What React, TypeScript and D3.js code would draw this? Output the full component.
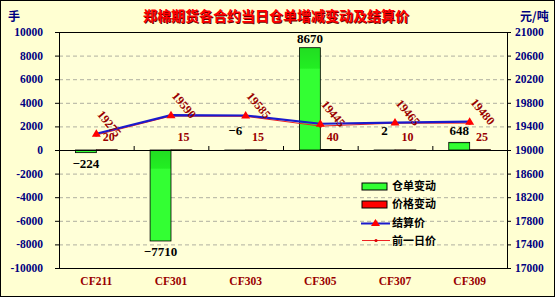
import React from "react";
import * as d3 from "d3";

// Contracts and daily figures
const contracts = ["CF211", "CF301", "CF303", "CF305", "CF307", "CF309"];
const receiptChange = [-224, -7710, -6, 8670, 2, 648];
const priceChange = [20, 15, 15, 40, 10, 25];
const settlePrice = [19275, 19590, 19585, 19445, 19465, 19480];
const prevPrice = [19255, 19575, 19570, 19405, 19455, 19455];

const leftTicks = [-10000, -8000, -6000, -4000, -2000, 0, 2000, 4000, 6000, 8000, 10000];
const rightTicks = [17000, 17400, 17800, 18200, 18600, 19000, 19400, 19800, 20200, 20600, 21000];

const W = 555;
const H = 297;
const plot = { left: 59, right: 507, top: 32, bottom: 268 };

const numFont = "'Liberation Serif', 'Times New Roman', serif";
const cjkFont = "'Noto Sans CJK SC', sans-serif";

export default function App() {
  const x = d3.scaleBand<string>().domain(contracts).range([plot.left, plot.right]).padding(0);
  const yL = d3.scaleLinear().domain([-10000, 10000]).range([plot.bottom, plot.top]);
  const yR = d3.scaleLinear().domain([17000, 21000]).range([plot.bottom, plot.top]);
  const bw = x.bandwidth() * 0.28;
  const cx = (c: string) => (x(c) as number) + x.bandwidth() / 2;

  const settleLine = d3
    .line<number>()
    .x((_, i) => cx(contracts[i]))
    .y((d) => yR(d));

  const zeroY = yL(0);

  return (
    <svg
      width={W}
      height={H}
      style={{ position: "absolute", left: 0, top: 0, display: "block" }}
    >
      <defs>
        <linearGradient id="greenFill" x1="0" y1="0" x2="0" y2="1">
          <stop offset="0" stopColor="#22dd22" />
          <stop offset="0.2" stopColor="#22ee22" />
          <stop offset="0.21" stopColor="#33ff33" />
          <stop offset="1" stopColor="#33ff33" />
        </linearGradient>
      </defs>
      <rect x={0.5} y={0.5} width={W - 1} height={H - 1} fill="#ffffd2" stroke="#000" />
      <rect
        x={plot.left}
        y={plot.top}
        width={plot.right - plot.left}
        height={plot.bottom - plot.top}
        fill="#ffffd8"
      />

      {/* grid */}
      {leftTicks
        .filter((t) => t !== 10000 && t !== -10000 && t !== 0)
        .map((t) => (
          <line
            key={"g" + t}
            x1={plot.left}
            x2={plot.right}
            y1={yL(t) + 0.5}
            y2={yL(t) + 0.5}
            stroke="#b0b0a0"
            strokeDasharray="4,3"
          />
        ))}

      {/* frame */}
      <rect
        x={plot.left + 0.5}
        y={plot.top + 0.5}
        width={plot.right - plot.left}
        height={plot.bottom - plot.top}
        fill="none"
        stroke="#000"
      />

      {/* left axis */}
      {leftTicks.map((t) => (
        <g key={"l" + t}>
          <line x1={plot.left - 4} x2={plot.left} y1={yL(t) + 0.5} y2={yL(t) + 0.5} stroke="#000" />
          <text
            x={43}
            y={yL(t) + 4}
            textAnchor="end"
            fontFamily={numFont}
            fontWeight="bold"
            fontSize={11.5}
            fill="#000080"
          >
            {t}
          </text>
        </g>
      ))}
      {/* right axis */}
      {rightTicks.map((t) => (
        <g key={"r" + t}>
          <line x1={plot.right} x2={plot.right + 4} y1={yR(t) + 0.5} y2={yR(t) + 0.5} stroke="#000" />
          <text
            x={515}
            y={yR(t) + 4}
            textAnchor="start"
            fontFamily={numFont}
            fontWeight="bold"
            fontSize={11.5}
            fill="#000080"
          >
            {t}
          </text>
        </g>
      ))}

      {/* bars: warehouse receipt change */}
      {contracts.map((c, i) => {
        const v = receiptChange[i];
        const y0 = Math.min(yL(v), zeroY);
        const h = Math.max(Math.abs(yL(v) - zeroY), 0.5);
        return (
          <rect
            key={"gb" + c}
            x={cx(c) - bw}
            y={y0}
            width={bw}
            height={h}
            fill="url(#greenFill)"
            stroke="#000"
            strokeWidth={0.8}
          />
        );
      })}
      {/* bars: price change */}
      {contracts.map((c, i) => {
        const v = priceChange[i];
        const y0 = Math.min(yL(v), zeroY);
        const h = Math.max(Math.abs(yL(v) - zeroY), 0.5);
        return (
          <rect
            key={"rb" + c}
            x={cx(c)}
            y={y0}
            width={bw}
            height={h}
            fill="#ff0000"
            stroke="#000"
            strokeWidth={0.8}
          />
        );
      })}

      {/* category axis at zero */}
      <line x1={plot.left} x2={plot.right} y1={zeroY + 0.5} y2={zeroY + 0.5} stroke="#000" strokeWidth={1.2} />
      {contracts.slice(1).map((c) => (
        <line
          key={"xt" + c}
          x1={(x(c) as number) + 0.5}
          x2={(x(c) as number) + 0.5}
          y1={zeroY - 4}
          y2={zeroY}
          stroke="#000"
        />
      ))}

      {/* previous-day price */}
      <path d={settleLine(prevPrice) || ""} fill="none" stroke="#ee2222" strokeWidth={1} />
      {prevPrice.map((v, i) => (
        <circle key={"pp" + i} cx={cx(contracts[i])} cy={yR(v)} r={1.6} fill="#dd0000" />
      ))}
      {/* settlement price */}
      <path d={settleLine(settlePrice) || ""} fill="none" stroke="#1a1acc" strokeWidth={2.2} />
      {settlePrice.map((v, i) => {
        const px = cx(contracts[i]);
        const py = yR(v);
        return (
          <path
            key={"sp" + i}
            d={`M${px},${py - 4.5}L${px + 4.5},${py + 3}L${px - 4.5},${py + 3}Z`}
            fill="#ff0000"
          />
        );
      })}

      {/* settlement price labels */}
      {settlePrice.map((v, i) => {
        const px = cx(contracts[i]) + 13;
        const py = yR(v) - 10;
        return (
          <text
            key={"sl" + i}
            transform={`translate(${px},${py}) rotate(50)`}
            textAnchor="middle"
            dy={4}
            fontFamily={numFont}
            fontWeight="bold"
            fontSize={12}
            fill="#990000"
          >
            {v}
          </text>
        );
      })}

      {/* receipt change labels */}
      {receiptChange.map((v, i) => {
        const c = contracts[i];
        const bx = cx(c) - bw / 2;
        const below = v < -100;
        const ty = below ? yL(v) + 15 : Math.min(yL(v), zeroY - 10) - 5;
        return (
          <text
            key={"rl" + i}
            x={bx}
            y={ty}
            textAnchor="middle"
            fontFamily={numFont}
            fontWeight="bold"
            fontSize={13}
            fill="#000"
          >
            {v < 0 ? "\u2212" + Math.abs(v) : v}
          </text>
        );
      })}

      {/* price change labels */}
      {priceChange.map((v, i) => {
        const c = contracts[i];
        return (
          <text
            key={"pl" + i}
            x={cx(c) + bw / 2 + 2}
            y={yL(v) - 9}
            textAnchor="middle"
            fontFamily={numFont}
            fontWeight="bold"
            fontSize={12}
            fill="#990000"
          >
            {v}
          </text>
        );
      })}

      {/* category labels */}
      {contracts.map((c) => (
        <text
          key={"cl" + c}
          x={cx(c)}
          y={285}
          textAnchor="middle"
          fontFamily={numFont}
          fontWeight="bold"
          fontSize={11.5}
          fill="#990000"
        >
          {c}
        </text>
      ))}

      {/* title */}
      <text
        x={277}
        y={22}
        textAnchor="middle"
        fontFamily={cjkFont}
        fontWeight="bold"
        fontSize={14}
        fill="#660000"
      >
        郑棉期货各合约当日仓单增减变动及结算价
      </text>
      <text
        x={276}
        y={21}
        textAnchor="middle"
        fontFamily={cjkFont}
        fontWeight="bold"
        fontSize={14}
        fill="#ff0000"
      >
        郑棉期货各合约当日仓单增减变动及结算价
      </text>

      {/* unit labels */}
      <text x={8} y={21} fontFamily={cjkFont} fontWeight="bold" fontSize={12} fill="#000080">
        手
      </text>
      <text x={520} y={21} fontFamily={cjkFont} fontWeight="bold" fontSize={12} fill="#000080">
        元/吨
      </text>

      {/* legend */}
      <g fontFamily={cjkFont} fontWeight="bold" fontSize={11} fill="#000">
        <rect x={362} y={183} width={25} height={7} fill="#33ff33" stroke="#000" />
        <text x={392} y={190}>仓单变动</text>
        <rect x={362} y={201} width={25} height={7} fill="#ff0000" stroke="#000" />
        <text x={392} y={208}>价格变动</text>
        <line x1={361} x2={390} y1={223.5} y2={223.5} stroke="#1a1acc" strokeWidth={2} />
        <path d="M375.5,219L380,226L371,226Z" fill="#ff0000" />
        <text x={392} y={227}>结算价</text>
        <line x1={362} x2={390} y1={240.5} y2={240.5} stroke="#ee2222" strokeWidth={1} />
        <circle cx={376} cy={240.5} r={1.6} fill="#dd0000" />
        <text x={392} y={245}>前一日价</text>
      </g>
    </svg>
  );
}
